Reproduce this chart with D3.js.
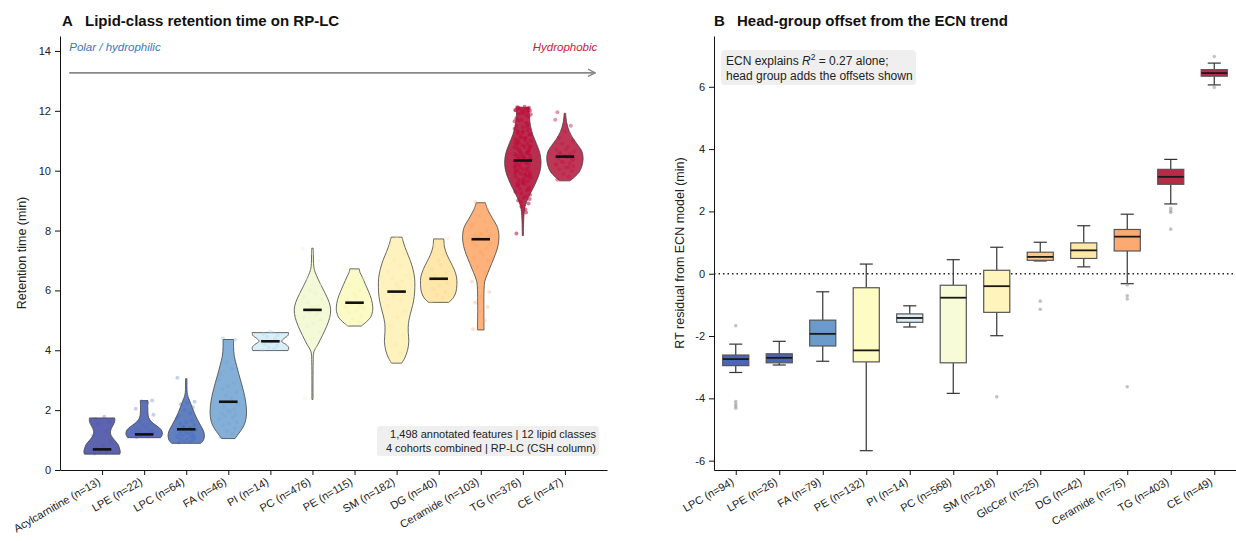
<!DOCTYPE html>
<html>
<head>
<meta charset="utf-8">
<script src="https://cdn.jsdelivr.net/npm/d3@7"></script>
<style>
  body { margin: 0; background: #fff; }
  svg text { font-family: "Liberation Sans", Arial, sans-serif; }
</style>
</head>
<body>
<div id="chart"></div>
<script>
// Panel A: classes, colours, violin profiles ([rt, relative half-width]) and medians
const classesA = ["Acylcarnitine (n=13)", "LPE (n=22)", "LPC (n=64)", "FA (n=46)", "PI (n=14)", "PC (n=476)",
  "PE (n=115)", "SM (n=182)", "DG (n=40)", "Ceramide (n=103)", "TG (n=376)", "CE (n=47)"];
const fillA = ["#5d63ae", "#5d71b8", "#6080c0", "#84afd6", "#d9eef6", "#f4f9d8", "#fbfbc7", "#fef2bf", "#fde7aa", "#fdb27b", "#b92d4e", "#bd3857"];
const dotA = ["#4c56b0", "#4a66c0", "#3f68c4", "#6ea3d6", "#a9d3e8", "#e8f2b0", "#f5f0a0", "#fbe59a", "#fbd890", "#fb9d5e", "#c00d3c", "#c41848"];
const medianA = [0.69, 1.19, 1.36, 2.28, 4.30, 5.35, 5.59, 5.96, 6.39, 7.71, 10.34, 10.47];
const profilesA = [
  [[0.53, 0.97], [0.6, 1.0], [0.7, 0.97], [0.85, 0.88], [1.0, 0.68], [1.15, 0.5], [1.28, 0.46], [1.4, 0.52], [1.55, 0.65], [1.65, 0.7], [1.74, 0.69]],
  [[1.08, 0.9], [1.15, 0.98], [1.25, 1.0], [1.35, 0.93], [1.45, 0.75], [1.55, 0.52], [1.65, 0.35], [1.75, 0.25], [1.9, 0.21], [2.1, 0.2], [2.32, 0.21]],
  [[0.89, 0.8], [1.0, 0.95], [1.15, 1.0], [1.3, 0.95], [1.5, 0.78], [1.7, 0.6], [1.9, 0.45], [2.1, 0.32], [2.3, 0.2], [2.45, 0.1], [2.6, 0.05], [2.8, 0.04], [3.05, 0.04]],
  [[1.05, 0.37], [1.2, 0.55], [1.4, 0.78], [1.6, 0.93], [1.8, 0.99], [2.0, 1.0], [2.3, 0.95], [2.6, 0.85], [2.9, 0.72], [3.2, 0.58], [3.5, 0.45], [3.8, 0.33], [4.1, 0.29], [4.36, 0.29]],
  [[3.99, 0.97], [4.1, 1.0], [4.2, 0.84], [4.3, 0.62], [4.4, 0.76], [4.5, 0.97], [4.59, 1.0]],
  [[2.36, 0.03], [3.0, 0.03], [3.6, 0.04], [3.95, 0.08], [4.2, 0.3], [4.5, 0.55], [4.8, 0.78], [5.1, 0.95], [5.35, 1.0], [5.6, 0.92], [5.9, 0.7], [6.2, 0.45], [6.5, 0.22], [6.7, 0.1], [6.9, 0.06], [7.2, 0.05], [7.41, 0.04]],
  [[4.81, 0.37], [4.95, 0.65], [5.1, 0.88], [5.3, 0.99], [5.45, 1.0], [5.7, 0.93], [5.95, 0.78], [6.2, 0.6], [6.45, 0.42], [6.6, 0.3], [6.72, 0.26]],
  [[3.57, 0.28], [3.75, 0.45], [4.0, 0.6], [4.3, 0.67], [4.6, 0.64], [4.9, 0.65], [5.2, 0.75], [5.5, 0.88], [5.8, 0.97], [6.1, 1.0], [6.4, 0.99], [6.7, 0.9], [7.0, 0.75], [7.3, 0.55], [7.55, 0.4], [7.78, 0.3]],
  [[5.6, 0.55], [5.75, 0.8], [5.95, 0.95], [6.2, 1.0], [6.45, 0.98], [6.7, 0.85], [6.95, 0.65], [7.2, 0.45], [7.45, 0.32], [7.72, 0.28]],
  [[4.68, 0.18], [5.5, 0.17], [6.0, 0.18], [6.3, 0.22], [6.6, 0.4], [6.9, 0.6], [7.2, 0.8], [7.5, 0.95], [7.8, 1.0], [8.1, 0.92], [8.4, 0.65], [8.7, 0.38], [8.93, 0.25]],
  [[7.83, 0.03], [8.2, 0.04], [8.5, 0.06], [8.8, 0.12], [9.1, 0.3], [9.4, 0.55], [9.7, 0.78], [10.0, 0.95], [10.3, 1.0], [10.6, 0.93], [10.9, 0.75], [11.2, 0.55], [11.5, 0.42], [11.8, 0.36], [12.12, 0.34]],
  [[9.66, 0.28], [9.8, 0.55], [9.95, 0.78], [10.15, 0.93], [10.4, 1.0], [10.65, 0.93], [10.85, 0.72], [11.05, 0.48], [11.3, 0.25], [11.6, 0.1], [11.92, 0.04]]
];
// strip points (retention times) per class
const pointsA = [
  [0.55, 0.58, 0.62, 0.68, 0.72, 0.8, 0.95, 1.15, 1.3, 1.55, 1.6, 1.7, 1.78],
  [1.1, 1.12, 1.14, 1.16, 1.18, 1.2, 1.22, 1.25, 1.28, 1.3, 1.33, 1.37, 1.42, 1.48, 1.55, 1.62, 1.85, 2.05, 2.25, 2.3, 2.32, 1.15],
  [0.92, 0.95, 0.98, 1.0, 1.03, 1.05, 1.08, 1.1, 1.12, 1.15, 1.18, 1.2, 1.22, 1.25, 1.28, 1.3, 1.33, 1.36, 1.4, 1.45, 1.5, 1.55, 1.6, 1.65, 1.72, 1.8, 1.9, 2.0, 2.1, 2.2, 2.25, 2.28, 3.08, 1.38, 1.42],
  [1.1, 1.2, 1.3, 1.4, 1.5, 1.55, 1.6, 1.7, 1.75, 1.8, 1.85, 1.9, 1.95, 2.0, 2.05, 2.1, 2.2, 2.3, 2.4, 2.5, 2.6, 2.7, 2.8, 2.9, 3.0, 3.2, 3.4, 3.6, 4.35, 4.4],
  [4.0, 4.05, 4.1, 4.15, 4.2, 4.28, 4.3, 4.32, 4.38, 4.45, 4.5, 4.55, 4.6, 4.62],
  [2.4, 4.1, 4.4, 4.6, 4.8, 4.9, 5.0, 5.1, 5.2, 5.25, 5.3, 5.35, 5.4, 5.45, 5.5, 5.6, 5.7, 5.8, 5.9, 6.0, 6.2, 6.4, 6.7, 7.0, 7.4],
  [4.85, 4.95, 5.05, 5.15, 5.25, 5.3, 5.4, 5.45, 5.5, 5.55, 5.6, 5.7, 5.8, 5.9, 6.0, 6.2, 6.4, 6.75],
  [3.6, 3.9, 4.2, 4.5, 4.8, 5.1, 5.3, 5.5, 5.7, 5.8, 5.9, 6.0, 6.1, 6.2, 6.3, 6.4, 6.5, 6.6, 6.8, 7.0, 7.2, 7.5, 7.8],
  [5.62, 5.75, 5.85, 5.95, 6.05, 6.15, 6.25, 6.35, 6.4, 6.5, 6.6, 6.7, 6.85, 7.0, 7.2, 7.5, 7.75],
  [4.7, 5.0, 5.3, 5.45, 5.6, 5.8, 5.95, 6.3, 6.6, 6.8, 7.0, 7.1, 7.2, 7.3, 7.4, 7.5, 7.55, 7.6, 7.7, 7.75, 7.8, 7.85, 7.9, 8.0, 8.1, 8.2, 8.3, 8.5, 8.7, 8.95],
  [7.9, 8.6, 8.8, 8.9, 9.0, 9.1, 9.2, 9.3, 9.35, 9.4, 9.45, 9.5, 9.55, 9.6, 9.65, 9.7, 9.75, 9.8, 9.85, 9.9, 9.95, 10.0,
   10.05, 10.1, 10.15, 10.2, 10.25, 10.3, 10.35, 10.4, 10.45, 10.5, 10.55, 10.6, 10.65, 10.7, 10.75, 10.8, 10.85, 10.9,
   10.95, 11.0, 11.05, 11.1, 11.15, 11.2, 11.25, 11.3, 11.35, 11.4, 11.5, 11.6, 11.7, 11.8, 11.9, 11.95, 12.0, 12.03,
   12.05, 12.08, 12.1, 12.12, 12.14, 12.0, 11.98, 10.2, 10.4, 10.0, 9.9, 10.6, 10.8, 11.0, 9.6, 9.8, 10.3, 10.5,
   9.15, 9.25, 9.38, 9.52, 9.68, 9.82, 9.92, 10.02, 10.12, 10.22, 10.32, 10.42, 10.52, 10.62, 10.72, 10.82, 10.92,
   11.02, 11.12, 11.22, 11.32, 11.45, 11.55, 11.65, 11.75, 11.85, 11.92, 12.06, 12.11, 9.72, 9.88, 10.08, 10.28,
   10.48, 10.68, 10.88, 11.08, 11.28, 11.48, 11.68, 11.88, 12.02, 8.7, 8.95, 9.05, 9.58, 10.38, 10.58, 10.78],
  [9.7, 9.8, 9.9, 10.0, 10.05, 10.1, 10.15, 10.2, 10.25, 10.3, 10.35, 10.4, 10.45, 10.5, 10.55, 10.6, 10.65, 10.7, 10.8, 10.9, 11.0, 11.1, 11.3, 11.5, 11.7, 11.95,
   10.12, 10.28, 10.42, 10.58, 10.72, 10.38, 10.22]
];
const jitter = [-0.18, 0.09, -0.04, 0.16, -0.13, 0.02, 0.2, -0.21, 0.11, -0.08, 0.17, -0.16, 0.05, -0.01, 0.13, -0.11, 0.22, -0.2, 0.07, -0.06, 0.19, -0.14, 0.0, 0.14, -0.23];

// Panel B: box statistics of RT residuals
const classesB = ["LPC (n=94)", "LPE (n=26)", "FA (n=79)", "PE (n=132)", "PI (n=14)", "PC (n=568)", "SM (n=218)",
  "GlcCer (n=25)", "DG (n=42)", "Ceramide (n=75)", "TG (n=403)", "CE (n=49)"];
const fillB = ["#4c66b0", "#4c66b0", "#6a9bcb", "#fefcc3", "#dbeef5", "#f7fbd8", "#fef4bc", "#fdc98a", "#fee9a8", "#fcaa72", "#b82a45", "#b82a45"];
const q1B = [-2.95, -2.86, -2.32, -2.83, -1.56, -2.86, -1.24, 0.43, 0.49, 0.73, 2.87, 6.34];
const medB = [-2.74, -2.70, -1.93, -2.46, -1.42, -0.77, -0.40, 0.54, 0.75, 1.19, 3.11, 6.44];
const q3B = [-2.61, -2.57, -1.49, -0.45, -1.29, -0.37, 0.11, 0.69, 0.99, 1.42, 3.35, 6.55];
const loB = [-3.17, -2.93, -2.81, -5.68, -1.71, -3.84, -1.99, 0.41, 0.22, -0.32, 2.24, 6.06];
const hiB = [-2.26, -2.17, -0.58, 0.31, -1.03, 0.45, 0.85, 1.01, 1.54, 1.91, 3.67, 6.76];
const outliersB = [[-1.67, -4.10, -4.18, -4.25, -4.32], [], [], [], [], [], [-3.95], [-0.88, -1.14], [],
  [-0.36, -0.71, -0.81, -3.63], [2.10, 2.02, 1.97, 1.43], [6.97, 5.98]];

const W = 1236, H = 541;
const svg = d3.select("#chart").append("svg").attr("width", W).attr("height", H);

// ---------- Panel A ----------
const xA = d3.scaleLinear().domain([-1, 12]).range([60, 607]);
const yA = d3.scaleLinear().domain([0, 14.5]).range([470, 36]);
const gA = svg.append("g");
const hw = 18.2; // px half width of a violin at max density

gA.append("g").attr("transform", "translate(0,470)")
  .call(d3.axisBottom(xA).tickValues(d3.range(classesA.length)).tickFormat("").tickSize(5).tickSizeOuter(0));
gA.append("g").attr("transform", "translate(60,0)")
  .call(d3.axisLeft(yA).tickValues(d3.range(0, 15, 2)).tickSize(5).tickSizeOuter(0).tickPadding(4));

classesA.forEach((c, i) => {
  gA.append("text")
    .attr("transform", `translate(${xA(i) - 1},484) rotate(-30)`)
    .attr("text-anchor", "end").attr("font-size", 11).attr("fill", "#222").text(c);
});

const violinArea = i => d3.area()
  .y(d => yA(d[0]))
  .x0(d => xA(i) - d[1] * hw)
  .x1(d => xA(i) + d[1] * hw)
  .curve(d3.curveCatmullRom);

profilesA.forEach((p, i) => {
  gA.append("path").attr("d", violinArea(i)(p))
    .attr("fill", fillA[i]).attr("stroke", "#444").attr("stroke-width", 0.8);
});
pointsA.forEach((pts, i) => {
  gA.append("g").selectAll("circle").data(pts).join("circle")
    .attr("cx", (d, k) => xA(i + jitter[k % jitter.length] * (i === 10 ? 0.85 : 1)))
    .attr("cy", d => yA(d))
    .attr("r", 2).attr("fill", dotA[i]).attr("opacity", i === 10 ? 0.55 : (i === 11 ? 0.45 : 0.3));
});
medianA.forEach((m, i) => {
  gA.append("line").attr("x1", xA(i - 0.22)).attr("x2", xA(i + 0.22))
    .attr("y1", yA(m)).attr("y2", yA(m)).attr("stroke", "#111").attr("stroke-width", 2.6);
});

// direction arrow
const defs = svg.append("defs");
defs.append("marker").attr("id", "arr").attr("viewBox", "0 0 10 10").attr("refX", 9).attr("refY", 5)
  .attr("markerWidth", 5).attr("markerHeight", 5).attr("orient", "auto")
  .append("path").attr("d", "M1,1 L9,5 L1,9").attr("fill", "none").attr("stroke", "#888").attr("stroke-width", 1.6);
gA.append("line").attr("x1", xA(-0.78)).attr("x2", xA(11.72)).attr("y1", yA(13.27)).attr("y2", yA(13.27))
  .attr("stroke", "#888").attr("stroke-width", 1.8).attr("marker-end", "url(#arr)");
gA.append("text").attr("x", xA(-0.78)).attr("y", 51).attr("font-size", 11.5).attr("font-style", "italic")
  .attr("fill", "#3a76c0").text("Polar / hydrophilic");
gA.append("text").attr("x", xA(11.77)).attr("y", 51).attr("font-size", 11.5).attr("font-style", "italic")
  .attr("text-anchor", "end").attr("fill", "#c8203c").text("Hydrophobic");

// note box
gA.append("rect").attr("x", 377).attr("y", 426).attr("width", 222).attr("height", 30).attr("rx", 3).attr("fill", "#efefef");
gA.append("text").attr("x", 596).attr("y", 438).attr("text-anchor", "end").attr("font-size", 11).attr("fill", "#222")
  .text("1,498 annotated features | 12 lipid classes");
gA.append("text").attr("x", 596).attr("y", 452).attr("text-anchor", "end").attr("font-size", 11).attr("fill", "#222")
  .text("4 cohorts combined | RP-LC (CSH column)");

gA.append("text").attr("transform", "translate(26,253) rotate(-90)").attr("text-anchor", "middle")
  .attr("font-size", 12.5).attr("fill", "#222").text("Retention time (min)");
const tA = gA.append("text").attr("y", 26).attr("font-size", 15).attr("font-weight", "bold").attr("fill", "#111");
tA.append("tspan").attr("x", 62).text("A");
tA.append("tspan").attr("x", 85).text("Lipid-class retention time on RP-LC");

// ---------- Panel B ----------
const xB = d3.scaleLinear().domain([-0.5, 11.5]).range([714, 1236]);
const yB = d3.scaleLinear().domain([-6.3, 7.63]).range([470, 36]);
const gB = svg.append("g");

gB.append("g").attr("transform", "translate(0,470)")
  .call(d3.axisBottom(xB).tickValues(d3.range(classesB.length)).tickFormat("").tickSize(5).tickSizeOuter(0));
gB.append("g").attr("transform", "translate(714,0)")
  .call(d3.axisLeft(yB).tickValues(d3.range(-6, 7, 2)).tickSize(5).tickSizeOuter(0).tickPadding(4)
    .tickFormat(d => String(d)));

classesB.forEach((c, i) => {
  gB.append("text")
    .attr("transform", `translate(${xB(i) - 1},484) rotate(-30)`)
    .attr("text-anchor", "end").attr("font-size", 11).attr("fill", "#222").text(c);
});

gB.append("line").attr("x1", 714).attr("x2", 1236).attr("y1", yB(0)).attr("y2", yB(0))
  .attr("stroke", "#222").attr("stroke-width", 1.4).attr("stroke-dasharray", "1.5,3");

const bw = 0.3;
classesB.forEach((c, i) => {
  const g = gB.append("g");
  g.append("line").attr("x1", xB(i)).attr("x2", xB(i)).attr("y1", yB(hiB[i])).attr("y2", yB(q3B[i]))
    .attr("stroke", "#333").attr("stroke-width", 1.2);
  g.append("line").attr("x1", xB(i)).attr("x2", xB(i)).attr("y1", yB(q1B[i])).attr("y2", yB(loB[i]))
    .attr("stroke", "#333").attr("stroke-width", 1.2);
  [hiB[i], loB[i]].forEach(v => g.append("line").attr("x1", xB(i - bw / 2)).attr("x2", xB(i + bw / 2))
    .attr("y1", yB(v)).attr("y2", yB(v)).attr("stroke", "#333").attr("stroke-width", 1.2));
  g.append("rect").attr("x", xB(i - bw)).attr("width", xB(i + bw) - xB(i - bw))
    .attr("y", yB(q3B[i])).attr("height", yB(q1B[i]) - yB(q3B[i]))
    .attr("fill", fillB[i]).attr("stroke", "#555").attr("stroke-width", 1.2);
  g.append("line").attr("x1", xB(i - bw)).attr("x2", xB(i + bw)).attr("y1", yB(medB[i])).attr("y2", yB(medB[i]))
    .attr("stroke", "#1a1a1a").attr("stroke-width", 1.8);
  g.selectAll("circle").data(outliersB[i]).join("circle")
    .attr("cx", xB(i)).attr("cy", d => yB(d)).attr("r", 1.8).attr("fill", "#999").attr("opacity", 0.6);
});

gB.append("rect").attr("x", 721).attr("y", 50).attr("width", 195).attr("height", 35).attr("rx", 4).attr("fill", "#efefef");
const nb = gB.append("text").attr("x", 726).attr("y", 65).attr("font-size", 12).attr("fill", "#222");
nb.append("tspan").text("ECN explains ");
nb.append("tspan").attr("font-style", "italic").text("R");
nb.append("tspan").attr("font-size", 8.5).attr("dy", -5).text("2");
nb.append("tspan").attr("dy", 5).text(" = 0.27 alone;");
gB.append("text").attr("x", 726).attr("y", 80).attr("font-size", 12).attr("fill", "#222").text("head group adds the offsets shown");

gB.append("text").attr("transform", "translate(684,253) rotate(-90)").attr("text-anchor", "middle")
  .attr("font-size", 12.5).attr("fill", "#222").text("RT residual from ECN model (min)");
const tB = gB.append("text").attr("y", 26).attr("font-size", 15).attr("font-weight", "bold").attr("fill", "#111");
tB.append("tspan").attr("x", 714).text("B");
tB.append("tspan").attr("x", 737).text("Head-group offset from the ECN trend");

svg.selectAll(".tick text").attr("font-size", 11).attr("fill", "#222");
svg.selectAll(".domain, .tick line").attr("stroke", "#111");
</script>
</body>
</html>
